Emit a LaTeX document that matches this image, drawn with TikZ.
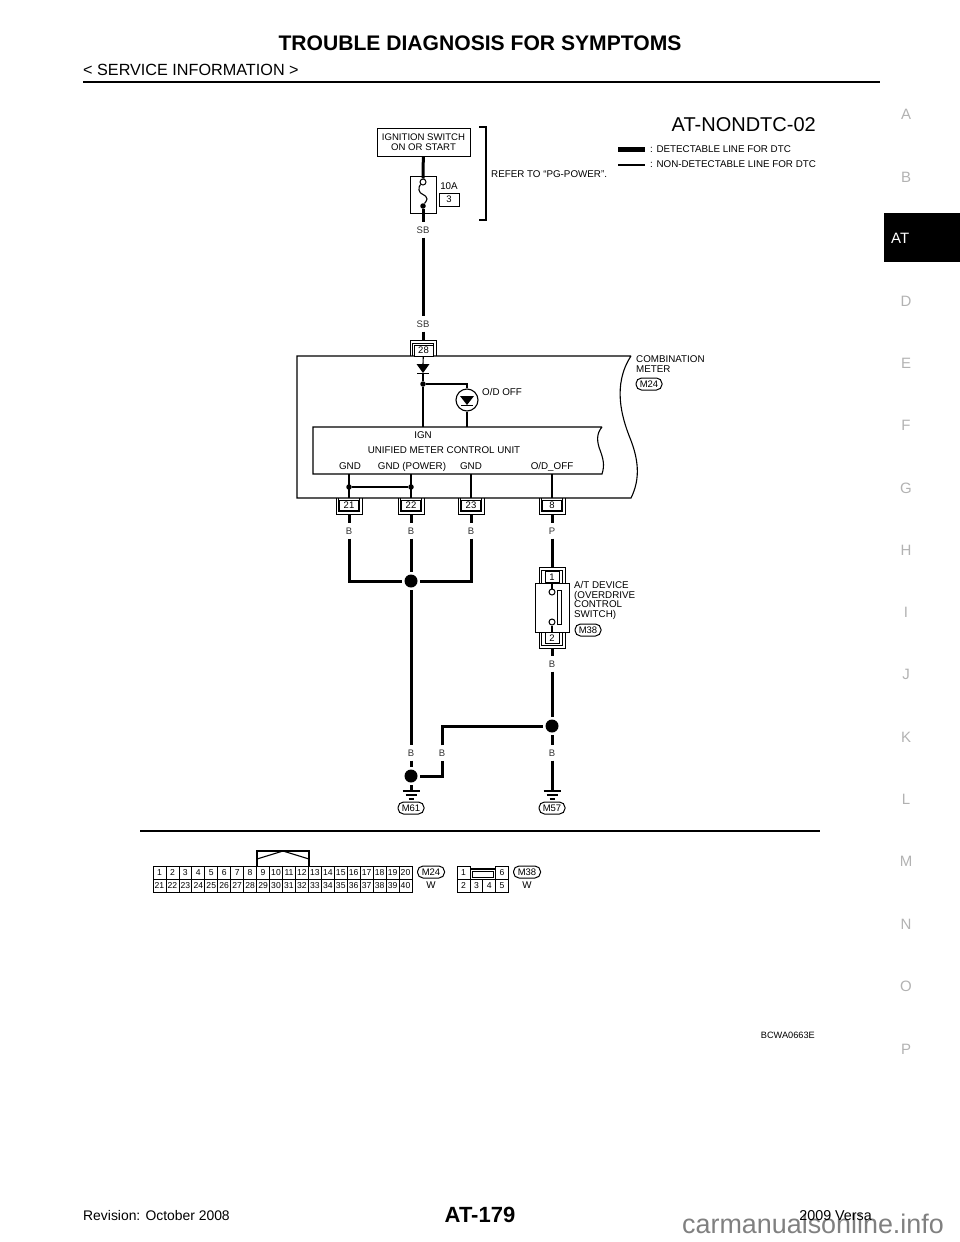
\documentclass[tikz,border=0pt]{standalone}
\usepackage{fontspec}
\setmainfont{Liberation Sans}
\usetikzlibrary{positioning}
\tikzset{
    wire/.style={line width=3pt},
    thinwire/.style={line width=1.1pt},
    lbl/.style={inner sep=0pt,font=\fontsize{9.8}{11}\selectfont},
    wirelbl/.style={inner sep=0pt,minimum height=15pt,black!80,font=\fontsize{9.5}{10}\selectfont},
    pinbox/.style={draw,line width=0.9pt,minimum width=19pt,minimum height=11pt,inner sep=0pt,fill=white,font=\fontsize{9.5}{10}\selectfont},
    pill/.style={draw,line width=1pt,rounded corners=5.5pt,minimum width=26pt,minimum height=12pt,inner sep=0pt,font=\fontsize{9.5}{10}\selectfont},
    splice/.style={circle,fill=black,inner sep=0pt,minimum size=13pt,outer sep=2.5pt},
    smalldot/.style={circle,fill=black,inner sep=0pt,minimum size=5.5pt},
    term/.style={circle,draw,line width=1pt,fill=white,inner sep=0pt,minimum size=6pt},
    cell/.style={draw,line width=0.8pt,minimum width=12.95pt,minimum height=13pt,inner sep=0pt,font=\fontsize{8.6}{9}\selectfont},
    sideletter/.style={inner sep=0pt,black!30,font=\fontsize{15}{16}\selectfont}
}
\begin{document}
\begin{tikzpicture}[x=1pt,y=-1pt]
    \useasboundingbox (0,0) rectangle (960,1242);
    %% page frame
    \node[inner sep=0pt,font=\bfseries\fontsize{21.1}{23}\selectfont] (title) at (480,43) {TROUBLE DIAGNOSIS FOR SYMPTOMS};
    \node[inner sep=0pt,anchor=west,font=\fontsize{16.2}{18}\selectfont] (subtitle) at (83,70) {< SERVICE INFORMATION >};
    \draw[line width=2.5pt] (83,82) -- (880,82);
    \fill (884,213) rectangle (960,262);
    \node[inner sep=0pt,anchor=west,white,font=\fontsize{15}{17}\selectfont] (tabname) at (891,238) {AT};
    \foreach \c/\y in {A/114,B/177,D/301,E/363,F/425,G/488,H/550,I/612,J/674,K/737,L/799,M/861,N/924,O/986,P/1049} {
        \node[sideletter] (side\c) at (906,\y) {\c};
    }
    \node[inner sep=0pt,anchor=west,font=\fontsize{13.9}{15}\selectfont] (revision) at (83,1216) {Revision: October 2008};
    \node[inner sep=0pt,font=\bfseries\fontsize{22}{24}\selectfont] (pagenum) at (480,1215) {AT-179};
    \node[inner sep=0pt,anchor=base west,black!50,font=\fontsize{26.9}{28}\selectfont] (watermark) at (682,1233) {carmanualsonline.info};
    \node[inner sep=0pt,anchor=east,font=\fontsize{14.3}{15}\selectfont] (model) at (872,1216) {2009 Versa};
    %% title and legend
    \node[inner sep=0pt,anchor=east,font=\fontsize{20}{22}\selectfont] (code) at (816,125) {AT-NONDTC-02};
    \draw[line width=5pt] (618,149) -- (645,149);
    \draw[line width=2.5pt] (618,165) -- (645,165);
    \node[lbl,anchor=west] (legenda) at (650,149) {: DETECTABLE LINE FOR DTC};
    \node[lbl,anchor=west] (legendb) at (650,164) {: NON-DETECTABLE LINE FOR DTC};
    %% ignition and fuse
    \node[draw,line width=1pt,minimum width=93pt,minimum height=28pt,inner sep=0pt,align=center,font=\fontsize{9.6}{9.8}\selectfont] (ign) at (423.5,142) {IGNITION SWITCH\\ON OR START};
    \node[draw,line width=1pt,minimum width=26pt,minimum height=37pt,inner sep=0pt] (fuse) at (423,194.5) {};
    \node[term] (fusea) at (423,182) {};
    \node[smalldot] (fuseb) at (423,206) {};
    \draw[thinwire] (fusea) to[out=225,in=90] (419,190) to[out=270,in=90] (427,199) to[out=270,in=60] (fuseb);
    \draw[wire] (ign) -- (fusea);
    \node[lbl] (amps) at (449,186) {10A};
    \node[draw,line width=1pt,minimum width=20pt,minimum height=13pt,inner sep=0pt,font=\fontsize{9.5}{10}\selectfont] (fusenum) at (449,199.5) {3};
    \draw[thinwire] (479,127) -- (486,127) -- (486,220) -- (479,220);
    \node[lbl,anchor=west] (refer) at (491,174) {REFER TO “PG-POWER”.};
    \node[wirelbl] (sba) at (423,230) {SB};
    \node[wirelbl] (sbb) at (423,324) {SB};
    \draw[wire] (fuseb) -- (sba);
    \draw[wire] (sba) -- (sbb);
    %% combination meter
    \draw[thinwire] (631,356) -- (297,356) -- (297,498) -- (631,498)
        .. controls (641,478) and (638,458) .. (630,438)
        .. controls (622,418) and (612,385) .. (631,356);
    \coordinate (pintop) at (423,340);
    \draw[wire] (sbb) -- (pintop);
    \draw[line width=0.9pt] (410,356) -- (410,340) -- (436,340) -- (436,356);
    \draw[line width=0.9pt] (412.5,356) -- (412.5,343) -- (433.5,343) -- (433.5,356);
    \node[pinbox] (pin28) at (423.5,350.5) {28};
    \coordinate (diodetop) at (423,364);
    \coordinate (diodebot) at (423,373);
    \draw[thinwire] (pin28) -- (diodetop);
    \fill (416.5,364) -- (429.5,364) -- (diodebot) -- cycle;
    \draw[thinwire] (417,373.5) -- (429,373.5);
    \node[smalldot] (branch) at (423,384) {};
    \coordinate (lampin) at (467,384);
    \node[circle,draw,line width=1.1pt,minimum size=22pt,inner sep=0pt] (lamp) at (467,400) {};
    \coordinate (unitign) at (423,427);
    \coordinate (unitlamp) at (467,427);
    \draw[thinwire] (diodebot) -- (branch) -- (unitign);
    \draw[thinwire] (branch) -- (lampin) -- (lamp.north);
    \fill (460,396) -- (474,396) -- (467,405) -- cycle;
    \draw[thinwire] (461,405.5) -- (473,405.5);
    \draw[thinwire] (lamp.south) -- (unitlamp);
    \node[lbl,anchor=west] (lampname) at (482,392) {O/D OFF};
    \node[lbl,anchor=west,align=left,font=\fontsize{9.8}{9.8}\selectfont] (meter) at (636,364) {COMBINATION\\METER};
    \node[pill] (m24) at (649,384) {M24};
    %% unified meter control unit
    \draw[thinwire] (602,427) -- (313,427) -- (313,474) -- (602,474)
        .. controls (605,465) and (603,458) .. (600,450)
        .. controls (597,442) and (596,434) .. (602,427);
    \node[lbl] (ignpin) at (423,435) {IGN};
    \node[lbl] (unit) at (444,450) {UNIFIED METER CONTROL UNIT};
    \node[lbl,anchor=base] (gnda) at (350,469) {GND};
    \node[lbl,anchor=base] (gndb) at (412,469) {GND (POWER)};
    \node[lbl,anchor=base] (gndc) at (471,469) {GND};
    \node[lbl,anchor=base] (odoff) at (552,469) {O/D\_OFF};
    \node[smalldot] (jointa) at (349,487) {};
    \node[smalldot] (jointb) at (411,487) {};
    \draw[thinwire] (jointa) -- (jointb);
    \foreach \x/\n/\c in {349/21/B,411/22/B,471/23/B,552/8/P} {
        \draw[thinwire] (\x,474) -- (\x,498);
        \draw[line width=0.9pt] (\x-13,498) -- (\x-13,514) -- (\x+13,514) -- (\x+13,498);
        \draw[line width=0.9pt] (\x-10.5,498) -- (\x-10.5,511) -- (\x+10.5,511) -- (\x+10.5,498);
        \node[pinbox,minimum height=10pt] (pin\n) at (\x,505) {\n};
        \coordinate (tail\n) at (\x,514);
        \node[wirelbl] (wire\n) at (\x,531) {\c};
        \draw[wire] (tail\n) -- (wire\n);
    }
    %% ground splice
    \node[splice] (splicea) at (411,581) {};
    \draw[wire] (wire21) |- (splicea);
    \draw[wire] (wire23) |- (splicea);
    \draw[wire] (wire22) -- (splicea);
    \node[wirelbl] (wiree) at (411,753) {B};
    \node[splice] (spliceb) at (411,776) {};
    \node[wirelbl] (wiref) at (442,753) {B};
    \node[splice] (splicec) at (552,726) {};
    \draw[wire] (splicea) -- (wiree);
    \draw[wire] (wiree) -- (spliceb);
    \draw[wire] (spliceb) -| (wiref);
    \draw[wire] (wiref) |- (splicec);
    %% A/T device
    \coordinate (devtop) at (552,567);
    \draw[wire] (wire8) -- (devtop);
    \draw[line width=0.9pt] (539,583) -- (539,567) -- (565,567) -- (565,583);
    \draw[line width=0.9pt] (541.5,583) -- (541.5,570) -- (562.5,570) -- (562.5,583);
    \node[pinbox,minimum height=10.5pt,minimum width=14pt] (pin1) at (552,577) {1};
    \node[draw,line width=1pt,minimum width=34pt,minimum height=49pt,inner sep=0pt] (switch) at (552,607.5) {};
    \node[term] (terma) at (552,592) {};
    \node[term] (termb) at (552,622) {};
    \draw[thinwire] (terma) -- (pin1);
    \draw[line width=1pt] (557,590) rectangle (561.5,624);
    \draw[line width=0.9pt] (539,632) -- (539,648) -- (565,648) -- (565,632);
    \draw[line width=0.9pt] (541.5,632) -- (541.5,645) -- (562.5,645) -- (562.5,632);
    \node[pinbox,minimum height=11pt,minimum width=14pt] (pin2) at (552,638) {2};
    \draw[thinwire] (termb) -- (pin2);
    \node[lbl,anchor=north west,align=left,font=\fontsize{9.8}{9.7}\selectfont] (device) at (574,581) {A/T DEVICE\\(OVERDRIVE\\CONTROL\\SWITCH)};
    \node[pill] (m38) at (588,630) {M38};
    \coordinate (devbot) at (552,648);
    \node[wirelbl] (wireg) at (552,664) {B};
    \node[wirelbl] (wireh) at (552,753) {B};
    \draw[wire] (devbot) -- (wireg);
    \draw[wire] (wireg) -- (splicec);
    \draw[wire] (splicec) -- (wireh);
    %% grounds
    \foreach \x/\n in {411/61,552/57} {
        \coordinate (earth\n) at (\x,791);
        \draw[thinwire] (\x-8.5,791) -- (\x+8.5,791);
        \draw[thinwire] (\x-5.5,795) -- (\x+5.5,795);
        \draw[thinwire] (\x-2.5,799) -- (\x+2.5,799);
        \node[pill] (m\n) at (\x,808) {M\n};
    }
    \draw[wire] (spliceb) -- (earth61);
    \draw[wire] (wireh) -- (earth57);
    %% connector faces
    \draw[line width=1.5pt] (140,831) -- (820,831);
    \draw[thinwire] (257,866) -- (257,851) -- (309,851) -- (309,866);
    \draw[thinwire] (257,859) -- (283,851) -- (309,859);
    \foreach \n in {1,...,20} {
        \node[cell] (top\n) at ({153+12.95*(\n-0.5)},872.5) {\n};
    }
    \foreach \n [evaluate=\n as \m using int(\n-20)] in {21,...,40} {
        \node[cell] (low\n) at ({153+12.95*(\m-0.5)},885.5) {\n};
    }
    \node[pill,minimum width=27pt] (facema) at (431,872) {M24};
    \node[lbl] (colora) at (431,885) {W};
    \node[cell] (face1) at (463.5,872.5) {1};
    \node[cell] (face6) at (502,872.5) {6};
    \foreach \n/\x in {2/463.5,3/476.4,4/489.3,5/502} {
        \node[cell] (face\n) at (\x,885.5) {\n};
    }
    \draw[thinwire] (470,869) -- (495.5,869);
    \draw[line width=1pt] (472,871) rectangle (493,877);
    \node[pill,minimum width=27pt] (facemb) at (527,872) {M38};
    \node[lbl] (colorb) at (527,885) {W};
    \node[inner sep=0pt,anchor=east,font=\fontsize{9.2}{10}\selectfont] (figcode) at (815,1035) {BCWA0663E};
\end{tikzpicture}
\end{document}
